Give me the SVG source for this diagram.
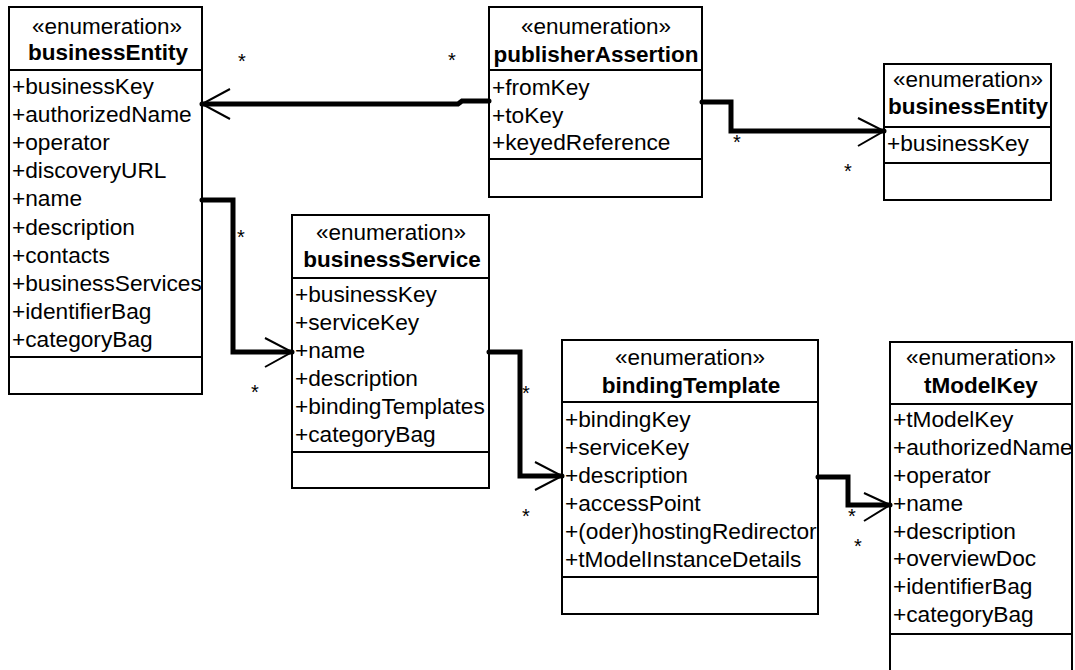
<svg xmlns="http://www.w3.org/2000/svg" width="1075" height="670" viewBox="0 0 1075 670">
<style>
.box{fill:#fff;stroke:#000;stroke-width:2}
.div{stroke:#000;stroke-width:2}
.st{font-family:"Liberation Sans",Arial,sans-serif;font-size:22.5px;text-anchor:middle;fill:#000}
.nm{font-family:"Liberation Sans",Arial,sans-serif;font-size:22.5px;font-weight:bold;text-anchor:middle;fill:#000}
.at{font-family:"Liberation Sans",Arial,sans-serif;font-size:22.7px;fill:#000}
.conn{fill:none;stroke:#000;stroke-width:5;stroke-linecap:round;stroke-linejoin:miter}
.head{fill:none;stroke:#000;stroke-width:2}
.mult{font-family:"Liberation Sans",Arial,sans-serif;font-size:20px;text-anchor:middle;fill:#000}
</style>
<defs>
<clipPath id="c1"><rect x="9" y="7" width="193" height="387"/></clipPath>
<clipPath id="c2"><rect x="489" y="7" width="213" height="190"/></clipPath>
<clipPath id="c3"><rect x="884" y="64" width="167" height="136"/></clipPath>
<clipPath id="c4"><rect x="292" y="215" width="197" height="273"/></clipPath>
<clipPath id="c5"><rect x="562" y="340" width="256" height="274"/></clipPath>
<clipPath id="c6"><rect x="890" y="342" width="182" height="340"/></clipPath>
</defs>
<rect width="1075" height="670" fill="#fff"/>

<g id="businessEntity1">
<rect class="box" x="9" y="7" width="193" height="387"/>
<line class="div" x1="9" y1="70" x2="202" y2="70"/>
<line class="div" x1="9" y1="357" x2="202" y2="357"/>
<g clip-path="url(#c1)">
<text class="st" x="107" y="34">«enumeration»</text>
<text class="nm" x="108" y="60">businessEntity</text>
<text class="at" x="12" y="94">+businessKey</text>
<text class="at" x="12" y="122">+authorizedName</text>
<text class="at" x="12" y="150">+operator</text>
<text class="at" x="12" y="178">+discoveryURL</text>
<text class="at" x="12" y="206">+name</text>
<text class="at" x="12" y="234.5">+description</text>
<text class="at" x="12" y="262.5">+contacts</text>
<text class="at" x="12" y="290.5">+businessServices</text>
<text class="at" x="12" y="318.5">+identifierBag</text>
<text class="at" x="12" y="347">+categoryBag</text>
</g>
</g>

<g id="publisherAssertion">
<rect class="box" x="489" y="7" width="213" height="190"/>
<line class="div" x1="489" y1="70" x2="702" y2="70"/>
<line class="div" x1="489" y1="159" x2="702" y2="159"/>
<g clip-path="url(#c2)">
<text class="st" x="596" y="34">«enumeration»</text>
<text class="nm" x="596" y="62">publisherAssertion</text>
<text class="at" x="492" y="95">+fromKey</text>
<text class="at" x="492" y="122.5">+toKey</text>
<text class="at" x="492" y="150">+keyedReference</text>
</g>
</g>

<g id="businessEntity2">
<rect class="box" x="884" y="64" width="167" height="136"/>
<line class="div" x1="884" y1="127" x2="1051" y2="127"/>
<line class="div" x1="884" y1="163" x2="1051" y2="163"/>
<g clip-path="url(#c3)">
<text class="st" x="968" y="87">«enumeration»</text>
<text class="nm" x="968" y="114">businessEntity</text>
<text class="at" x="887" y="151">+businessKey</text>
</g>
</g>

<g id="businessService">
<rect class="box" x="292" y="215" width="197" height="273"/>
<line class="div" x1="292" y1="278" x2="489" y2="278"/>
<line class="div" x1="292" y1="452" x2="489" y2="452"/>
<g clip-path="url(#c4)">
<text class="st" x="391" y="240">«enumeration»</text>
<text class="nm" x="392" y="267">businessService</text>
<text class="at" x="295" y="302">+businessKey</text>
<text class="at" x="295" y="330">+serviceKey</text>
<text class="at" x="295" y="358">+name</text>
<text class="at" x="295" y="386">+description</text>
<text class="at" x="295" y="414">+bindingTemplates</text>
<text class="at" x="295" y="442">+categoryBag</text>
</g>
</g>

<g id="bindingTemplate">
<rect class="box" x="562" y="340" width="256" height="274"/>
<line class="div" x1="562" y1="402" x2="818" y2="402"/>
<line class="div" x1="562" y1="577" x2="818" y2="577"/>
<g clip-path="url(#c5)">
<text class="st" x="690" y="365">«enumeration»</text>
<text class="nm" x="691" y="393">bindingTemplate</text>
<text class="at" x="565" y="426.5">+bindingKey</text>
<text class="at" x="565" y="454.5">+serviceKey</text>
<text class="at" x="565" y="482.5">+description</text>
<text class="at" x="565" y="510.5">+accessPoint</text>
<text class="at" x="565" y="538.5">+(oder)hostingRedirector</text>
<text class="at" x="565" y="566.5">+tModelInstanceDetails</text>
</g>
</g>

<g id="tModelKey">
<rect class="box" x="890" y="342" width="182" height="340"/>
<line class="div" x1="890" y1="404" x2="1072" y2="404"/>
<line class="div" x1="890" y1="634" x2="1072" y2="634"/>
<g clip-path="url(#c6)">
<text class="st" x="981" y="365">«enumeration»</text>
<text class="nm" x="981" y="393">tModelKey</text>
<text class="at" x="893" y="426.5">+tModelKey</text>
<text class="at" x="893" y="454.5">+authorizedName</text>
<text class="at" x="893" y="482.5">+operator</text>
<text class="at" x="893" y="510.5">+name</text>
<text class="at" x="893" y="538.5">+description</text>
<text class="at" x="893" y="566">+overviewDoc</text>
<text class="at" x="893" y="594">+identifierBag</text>
<text class="at" x="893" y="622">+categoryBag</text>
</g>
</g>

<g id="connectors">
<path class="conn" d="M489,101 L462,101 L458,104 L202,104"/>
<polyline class="head" points="230,89 202,104 230,119"/>
<path class="conn" d="M702,102 L731,102 L731,131 L884,131"/>
<polyline class="head" points="858,118 884,131 858,146"/>
<path class="conn" d="M202,200 L233,200 L233,352 L292,352"/>
<polyline class="head" points="265,338 292,352 265,367"/>
<path class="conn" d="M489,352 L520,352 L520,476 L562,476"/>
<polyline class="head" points="535,462 562,476 535,490"/>
<path class="conn" d="M818,477 L848,477 L848,505 L890,505"/>
<polyline class="head" points="864,493 890,505 864,521"/>
<text class="mult" x="242" y="68">*</text>
<text class="mult" x="452" y="67">*</text>
<text class="mult" x="737" y="149">*</text>
<text class="mult" x="848" y="178">*</text>
<text class="mult" x="241" y="244">*</text>
<text class="mult" x="255" y="399">*</text>
<text class="mult" x="526" y="400">*</text>
<text class="mult" x="526" y="523">*</text>
<text class="mult" x="852" y="523">*</text>
<text class="mult" x="858" y="553">*</text>
</g>
</svg>
